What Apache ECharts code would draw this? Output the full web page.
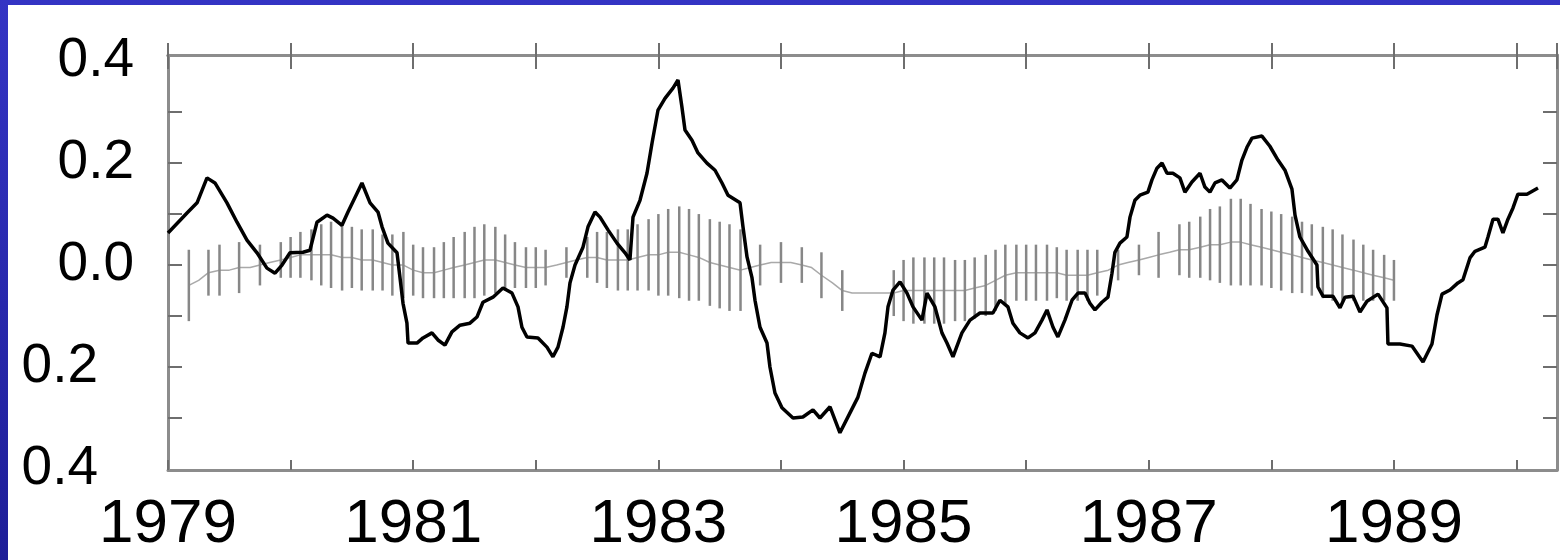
<!DOCTYPE html>
<html>
<head>
<meta charset="utf-8">
<title>anomaly 1979-1990</title>
<script src="https://cdn.jsdelivr.net/npm/echarts@6/dist/echarts.min.js"></script>
<style>
  html, body { margin: 0; padding: 0; width: 1560px; height: 560px; overflow: hidden; }
  body { background: linear-gradient(to bottom, #3434c4, #1e1e98); position: relative; }
  #chart { position: absolute; left: 8px; top: 5px; width: 1552px; height: 555px; background: #fff; }
</style>
</head>
<body>
<div id="chart"></div>
<script>
// observed curve (black)
const lineYears = [
  1979.00, 1979.155, 1979.237, 1979.318, 1979.383, 1979.481, 1979.563, 1979.644, 1979.726, 1979.807,
  1979.873, 1979.930, 1979.995, 1980.101, 1980.158, 1980.215, 1980.297, 1980.346, 1980.419, 1980.468,
  1980.542, 1980.582, 1980.648, 1980.713, 1980.746, 1980.794, 1980.868, 1980.892, 1980.917, 1980.949,
  1980.958, 1981.031, 1981.080, 1981.153, 1981.202, 1981.259, 1981.316, 1981.382, 1981.463, 1981.520,
  1981.569, 1981.651, 1981.732, 1981.806, 1981.855, 1981.887, 1981.928, 1982.018, 1982.091, 1982.140,
  1982.181, 1982.222, 1982.254, 1982.279, 1982.320, 1982.385, 1982.426, 1982.483, 1982.524, 1982.589,
  1982.662, 1982.728, 1982.768, 1982.793, 1982.850, 1982.907, 1982.948, 1982.997, 1983.054, 1983.119,
  1983.160, 1983.192, 1983.217, 1983.274, 1983.323, 1983.396, 1983.462, 1983.519, 1983.568, 1983.666,
  1983.690, 1983.723, 1983.763, 1983.788, 1983.829, 1983.886, 1983.910, 1983.951, 1984.008, 1984.098,
  1984.179, 1984.261, 1984.318, 1984.400, 1984.481, 1984.563, 1984.628, 1984.685, 1984.742, 1984.808,
  1984.848, 1984.873, 1984.914, 1984.971, 1985.028, 1985.077, 1985.150, 1985.191, 1985.256, 1985.313,
  1985.354, 1985.403, 1985.476, 1985.542, 1985.623, 1985.729, 1985.786, 1985.851, 1985.892, 1985.949,
  1986.015, 1986.072, 1986.129, 1986.170, 1986.219, 1986.259, 1986.316, 1986.374, 1986.423, 1986.480,
  1986.520, 1986.561, 1986.618, 1986.667, 1986.700, 1986.724, 1986.765, 1986.822, 1986.847, 1986.887,
  1986.928, 1986.993, 1987.026, 1987.067, 1987.108, 1987.149, 1987.197, 1987.254, 1987.295, 1987.352,
  1987.418, 1987.458, 1987.499, 1987.540, 1987.597, 1987.662, 1987.719, 1987.760, 1987.801, 1987.842,
  1987.923, 1987.988, 1988.054, 1988.111, 1988.168, 1988.193, 1988.233, 1988.299, 1988.372, 1988.380,
  1988.421, 1988.502, 1988.560, 1988.600, 1988.666, 1988.723, 1988.780, 1988.870, 1988.943, 1988.951,
  1989.049, 1989.147, 1989.237, 1989.310, 1989.351, 1989.392, 1989.457, 1989.522, 1989.563, 1989.620,
  1989.661, 1989.742, 1989.767, 1989.808, 1989.848, 1989.889, 1989.930, 1989.971, 1990.011, 1990.085,
  1990.175
]
const lineValues = [
  0.063, 0.102, 0.122, 0.171, 0.161, 0.122, 0.084, 0.049, 0.024, -0.006,
  -0.016, 0.000, 0.024, 0.025, 0.029, 0.084, 0.098, 0.092, 0.078, 0.104,
  0.141, 0.161, 0.122, 0.104, 0.075, 0.043, 0.024, -0.024, -0.075, -0.114,
  -0.153, -0.153, -0.143, -0.133, -0.147, -0.157, -0.131, -0.118, -0.114, -0.102,
  -0.073, -0.063, -0.045, -0.055, -0.082, -0.122, -0.141, -0.143, -0.161, -0.180,
  -0.161, -0.122, -0.082, -0.035, 0.000, 0.035, 0.075, 0.104, 0.094, 0.069,
  0.043, 0.024, 0.010, 0.094, 0.127, 0.180, 0.239, 0.304, 0.327, 0.347,
  0.363, 0.310, 0.265, 0.245, 0.220, 0.200, 0.186, 0.161, 0.137, 0.122,
  0.075, 0.016, -0.024, -0.069, -0.122, -0.153, -0.200, -0.251, -0.280, -0.300,
  -0.298, -0.284, -0.300, -0.278, -0.329, -0.290, -0.259, -0.212, -0.173, -0.180,
  -0.133, -0.082, -0.049, -0.033, -0.055, -0.082, -0.108, -0.055, -0.082, -0.133,
  -0.153, -0.180, -0.133, -0.108, -0.094, -0.094, -0.069, -0.082, -0.114, -0.133,
  -0.143, -0.133, -0.108, -0.088, -0.122, -0.141, -0.108, -0.069, -0.055, -0.055,
  -0.075, -0.088, -0.073, -0.063, -0.016, 0.025, 0.043, 0.055, 0.094, 0.127,
  0.137, 0.143, 0.167, 0.190, 0.200, 0.180, 0.180, 0.171, 0.143, 0.163,
  0.180, 0.153, 0.143, 0.161, 0.167, 0.151, 0.167, 0.206, 0.231, 0.249,
  0.253, 0.233, 0.206, 0.186, 0.149, 0.098, 0.055, 0.027, 0.000, -0.043,
  -0.061, -0.061, -0.084, -0.063, -0.061, -0.092, -0.071, -0.057, -0.084, -0.155,
  -0.155, -0.159, -0.190, -0.155, -0.098, -0.057, -0.049, -0.035, -0.029, 0.014,
  0.027, 0.035, 0.055, 0.090, 0.090, 0.063, 0.090, 0.112, 0.139, 0.139,
  0.151
]

// monthly estimate (grey): centre and half width of the bar, null = no bar drawn
const grayYears = [
  1979.17, 1979.25, 1979.33, 1979.42, 1979.50, 1979.58, 1979.67, 1979.75, 1979.83, 1979.92,
  1980.00, 1980.08, 1980.17, 1980.25, 1980.33, 1980.42, 1980.50, 1980.58, 1980.67, 1980.75, 1980.83, 1980.92,
  1981.00, 1981.08, 1981.17, 1981.25, 1981.33, 1981.42, 1981.50, 1981.58, 1981.67, 1981.75, 1981.83, 1981.92,
  1982.00, 1982.08, 1982.17, 1982.25, 1982.33, 1982.42, 1982.50, 1982.58, 1982.67, 1982.75, 1982.83, 1982.92,
  1983.00, 1983.08, 1983.17, 1983.25, 1983.33, 1983.42, 1983.50, 1983.58, 1983.67, 1983.75, 1983.83, 1983.92,
  1984.00, 1984.08, 1984.17, 1984.25, 1984.33, 1984.42, 1984.50, 1984.58, 1984.67, 1984.75, 1984.83, 1984.92,
  1985.00, 1985.08, 1985.17, 1985.25, 1985.33, 1985.42, 1985.50, 1985.58, 1985.67, 1985.75, 1985.83, 1985.92,
  1986.00, 1986.08, 1986.17, 1986.25, 1986.33, 1986.42, 1986.50, 1986.58, 1986.67, 1986.75, 1986.83, 1986.92,
  1987.00, 1987.08, 1987.17, 1987.25, 1987.33, 1987.42, 1987.50, 1987.58, 1987.67, 1987.75, 1987.83, 1987.92,
  1988.00, 1988.08, 1988.17, 1988.25, 1988.33, 1988.42, 1988.50, 1988.58, 1988.67, 1988.75, 1988.83, 1988.92,
  1989.00
]
const grayMid = [
  -0.04, -0.03, -0.015, -0.01, -0.01, -0.005, -0.005, 0, 0.005, 0.01,
  0.015, 0.02, 0.02, 0.02, 0.02, 0.015, 0.015, 0.01, 0.01, 0.005, 0, 0,
  -0.01, -0.015, -0.015, -0.01, -0.005, 0, 0.005, 0.01, 0.01, 0.005, 0, -0.005,
  -0.005, -0.005, 0, 0.005, 0.01, 0.015, 0.015, 0.01, 0.01, 0.01, 0.015, 0.02,
  0.02, 0.025, 0.025, 0.02, 0.015, 0.005, 0, -0.005, -0.01, -0.005, 0, 0.005,
  0.005, 0.005, 0, -0.005, -0.02, -0.035, -0.05, -0.055, -0.055, -0.055, -0.055, -0.055,
  -0.05, -0.05, -0.05, -0.05, -0.05, -0.05, -0.05, -0.045, -0.04, -0.03, -0.02, -0.015,
  -0.015, -0.015, -0.015, -0.015, -0.02, -0.02, -0.02, -0.015, -0.01, 0, 0.005, 0.01,
  0.015, 0.02, 0.025, 0.03, 0.03, 0.035, 0.04, 0.04, 0.045, 0.045, 0.04, 0.035,
  0.03, 0.025, 0.02, 0.015, 0.01, 0.005, 0, -0.005, -0.01, -0.015, -0.02, -0.025,
  -0.03
]
const grayHalf = [
  0.07, null, 0.045, 0.05, null, 0.05, null, 0.04, null, 0.035,
  0.04, 0.045, 0.05, 0.06, 0.065, 0.065, 0.06, 0.06, 0.06, 0.055, 0.06, 0.065,
  0.05, 0.05, 0.05, 0.055, 0.06, 0.065, 0.07, 0.07, 0.065, 0.055, 0.045, 0.04,
  0.04, 0.035, null, 0.03, null, 0.04, 0.05, 0.055, 0.06, 0.06, 0.065, 0.07,
  0.08, 0.085, 0.09, 0.09, 0.085, 0.085, 0.085, 0.085, 0.08, null, 0.04, null,
  0.04, null, 0.035, null, 0.045, null, 0.04, null, null, null, null, 0.045,
  0.06, 0.065, 0.065, 0.065, 0.065, 0.06, 0.06, 0.06, 0.06, 0.06, 0.06, 0.055,
  0.055, 0.055, 0.055, 0.05, 0.05, 0.05, 0.05, 0.045, null, 0.03, null, 0.03,
  null, 0.045, null, 0.05, 0.055, 0.06, 0.07, 0.075, 0.085, 0.085, 0.08, 0.075,
  0.075, 0.075, 0.075, 0.07, 0.07, 0.07, 0.07, 0.065, 0.06, 0.055, 0.05, 0.045,
  0.04
]

const yTickValues = [-0.3, -0.2, -0.1, 0, 0.1, 0.2, 0.3]
const yLabelValues = [-0.4, -0.2, 0, 0.2, 0.4]

const yFont = { fontFamily: 'Liberation Sans, Arial, sans-serif', fontSize: 55, color: '#000' }
const frameColor = '#8c8c8c'
const tickColor = '#6e6e6e'

const lineData = lineYears.map((y, i) => [y, lineValues[i]])
const grayLineData = grayYears.map((y, i) => [y, grayMid[i]])
const grayBarData = grayYears
  .map((y, i) => [y, grayMid[i], grayHalf[i]])
  .filter(d => d[2] != null)

function yearLabel(v) {
  const r = Math.round(v)
  if (Math.abs(v - r) > 1e-6 || r % 2 !== 1) return ''
  return String(r)
}

// a bare frame axis: line + ticks, no labels
function frameX(position, inside, length) {
  return {
    type: 'value', min: 1979, max: 1990.33, interval: 1, position: position,
    axisLine: { show: true, onZero: false, lineStyle: { color: frameColor, width: 3 } },
    axisTick: { show: true, inside: inside, length: length, lineStyle: { color: tickColor, width: 2 } },
    axisLabel: { show: false },
    splitLine: { show: false }
  }
}

const chart = echarts.init(document.getElementById('chart'))

const option = {
  backgroundColor: '#ffffff',
  animation: false,
  // chart box sits 8px right / 5px down of the page corner
  grid: { left: 160, right: 3, top: 50, bottom: 90 },
  xAxis: [{
    type: 'value', min: 1979, max: 1990.33, interval: 1, position: 'bottom',
    axisLine: { show: true, onZero: false, lineStyle: { color: frameColor, width: 3 } },
    axisTick: { show: true, inside: true, length: 10, lineStyle: { color: tickColor, width: 2 } },
    axisLabel: {
      formatter: yearLabel, showMaxLabel: false, margin: 24,
      fontFamily: 'Liberation Sans, Arial, sans-serif',
      fontSize: 62, color: '#000'
    },
    splitLine: { show: false }
  },
  frameX('top', true, 14),
  frameX('top', false, 12)
  ],
  yAxis: [{
    type: 'value', min: -0.402, max: 0.412, position: 'left',
    axisLine: { show: true, onZero: false, lineStyle: { color: frameColor, width: 3 } },
    axisTick: { show: true, inside: true, length: 14, customValues: yTickValues, lineStyle: { color: tickColor, width: 2 } },
    axisLabel: {
      customValues: yLabelValues, margin: 34,
      formatter: v => v < 0 ? '{n|' + Math.abs(v).toFixed(1) + '}' : '{p|' + v.toFixed(1) + '}',
      rich: {
        p: yFont,
        n: Object.assign({ padding: [0, 36, 0, 0] }, yFont)
      }
    },
    splitLine: { show: false }
  }, {
    type: 'value', min: -0.402, max: 0.412, position: 'right',
    axisLine: { show: true, onZero: false, lineStyle: { color: frameColor, width: 3 } },
    axisTick: { show: true, inside: true, length: 14, customValues: yTickValues, lineStyle: { color: tickColor, width: 2 } },
    axisLabel: { show: false },
    splitLine: { show: false }
  }],
  series: [{
    name: 'estimate', type: 'line', data: grayLineData,
    xAxisIndex: 0, yAxisIndex: 0,
    showSymbol: false, silent: true,
    lineStyle: { color: '#a9a9a9', width: 1.5 }, z: 2
  }, {
    name: 'range', type: 'custom', data: grayBarData,
    xAxisIndex: 0, yAxisIndex: 0,
    encode: { x: 0, y: 1 },
    renderItem: function (params, api) {
      const x = api.value(0)
      const mid = api.value(1)
      const half = api.value(2)
      const top = api.coord([x, mid + half])
      const bot = api.coord([x, mid - half])
      return {
        type: 'line',
        shape: { x1: top[0], y1: top[1], x2: bot[0], y2: bot[1] },
        style: { stroke: '#878787', lineWidth: 2.5 }
      }
    },
    z: 3
  }, {
    name: 'observed', type: 'line', data: lineData,
    xAxisIndex: 0, yAxisIndex: 0,
    showSymbol: false, silent: true,
    lineStyle: { color: '#000', width: 3.5 }, z: 5
  }]
}

chart.setOption(option)
</script>
</body>
</html>
